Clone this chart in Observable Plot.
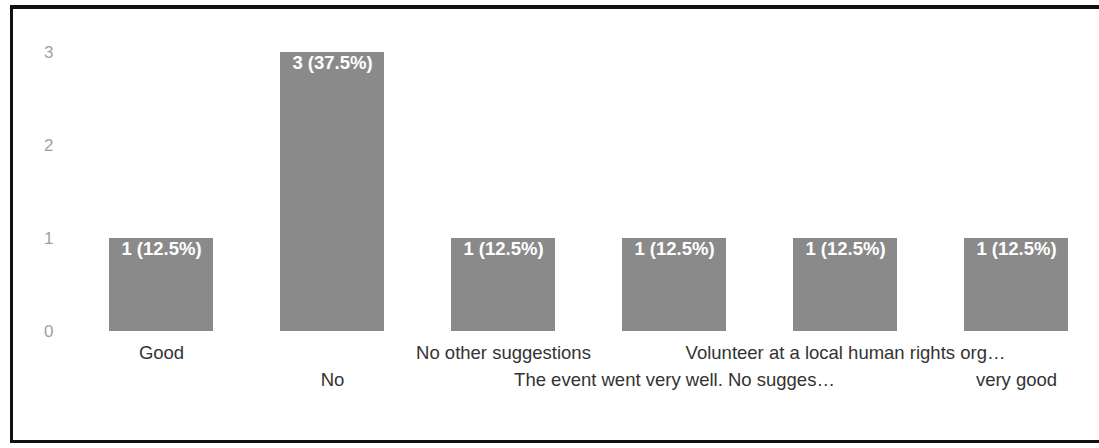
<!DOCTYPE html>
<html>
<head>
<meta charset="utf-8">
<script src="https://cdn.jsdelivr.net/npm/d3@7"></script>
<script src="https://cdn.jsdelivr.net/npm/@observablehq/plot@0.6"></script>
<style>
  html, body { margin: 0; padding: 0; background: #fff; overflow: hidden; }
  #wrap { position: relative; width: 1099px; height: 448px; overflow: hidden; }
  #frame { position: absolute; left: 10px; top: 5px; width: 1089px; height: 438px;
           border-left: 3px solid #111; border-top: 4px solid #111; border-bottom: 3px solid #111; border-right: 0 none transparent; box-sizing: border-box; }
  #chart { position: absolute; left: 0; top: 0; width: 1099px; height: 448px; overflow: hidden; }
  #chart svg { max-width: none !important; }
</style>
</head>
<body>
<div id="wrap">
  <div id="frame"></div>
  <div id="chart"></div>
</div>
<script>
const categories = [
  "Good",
  "No",
  "No other suggestions",
  "The event went very well. No sugges…",
  "Volunteer at a local human rights org…",
  "very good"
];
const counts = [1, 3, 1, 1, 1, 1];
const percents = [12.5, 37.5, 12.5, 12.5, 12.5, 12.5];
const yTicks = [0, 1, 2, 3];

const data = categories.map((c, i) => ({
  category: c,
  count: counts[i],
  label: `${counts[i]} (${percents[i]}%)`,
  row: i % 2
}));

const font = "'Liberation Sans', Arial, sans-serif";

const chart = Plot.plot({
  width: 1104,
  height: 448,
  marginLeft: 74,
  marginRight: 1,
  marginTop: 52,
  marginBottom: 117,
  style: { fontFamily: font, background: "transparent", overflow: "visible", maxWidth: "none" },
  x: { domain: categories, paddingInner: 0.39, paddingOuter: 0.195, axis: null },
  y: { domain: [0, 3], axis: null },
  marks: [
    Plot.barY(data, { x: "category", y: "count", fill: "#8a8a8a" }),
    Plot.ruleY([0], { stroke: "#4a4a4a", strokeWidth: 1.5, x1: 72 }),
    Plot.text(yTicks, { y: d => d, text: d => String(d), frameAnchor: "left", textAnchor: "end", dx: -21, fontSize: 17, fill: "#a0a0a0" }),
    Plot.text(data, { x: "category", y: "count", text: "label", fill: "#fff", fontSize: 18.5, fontWeight: "bold", lineAnchor: "top", dy: 3 }),
    Plot.text(data.filter(d => d.row === 0), { x: "category", y: () => 0, text: "category", fill: "#333", fontSize: 18.5, lineAnchor: "middle", dy: 22 }),
    Plot.text(data.filter(d => d.row === 1), { x: "category", y: () => 0, text: "category", fill: "#333", fontSize: 18.5, lineAnchor: "middle", dy: 49 })
  ]
});
document.getElementById("chart").append(chart);
</script>
</body>
</html>
